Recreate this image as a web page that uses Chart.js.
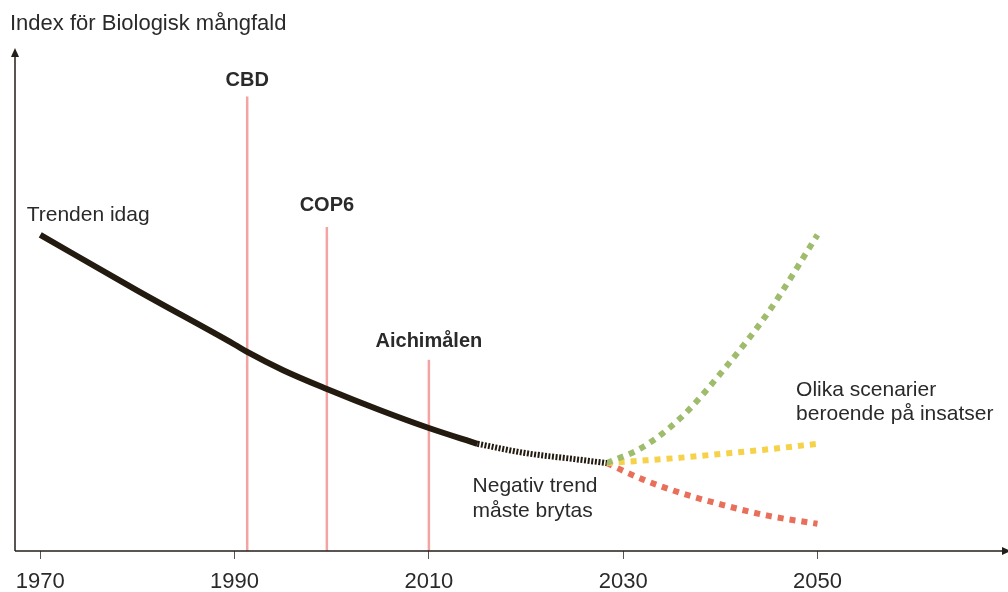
<!DOCTYPE html>
<html>
<head>
<meta charset="utf-8">
<script src="https://cdn.jsdelivr.net/npm/chart.js@4/dist/chart.umd.min.js"></script>
<style>
  html, body { margin: 0; padding: 0; background: #fff; }
  #wrap { width: 1008px; height: 592px; position: relative; }
</style>
</head>
<body>
<div id="wrap"><canvas id="chart"></canvas></div>
<script>
// årtal på x-axeln
const tickYears = [1970, 1990, 2010, 2030, 2050];

// dagens trend (heldragen) och fortsättningen (prickad)
const trendYears  = [1970, 1980, 1990, 1991.3, 1995, 1999.5, 2005, 2010, 2015];
const trendValues = [64, 52.7, 41.8, 40.3, 36.6, 32.8, 28.5, 24.9, 21.7];
const futureYears  = [2015, 2020, 2025, 2028.3];
const futureValues = [21.7, 19.8, 18.6, 17.8];

// scenarier fram till 2050
const scenarioYears = [2028.3, 2032, 2036, 2040.3, 2045, 2050];
const greenValues  = [17.8, 21, 27.1, 36.6, 48.5, 64];
const yellowValues = [17.8, 18.3, 18.9, 19.7, 20.6, 21.7];
const redValues    = [17.8, 14.5, 11.7, 9.3, 7.1, 5.5];

// milstolpar
const milestoneNames = ['CBD', 'COP6', 'Aichimålen'];
const milestoneYears = [1991.3, 1999.5, 2010];
const milestoneTops  = [92, 65.6, 38.7];

const pts = (xs, ys) => xs.map((x, i) => ({ x: x, y: ys[i] }));

const textColor = '#2a2a2a';
const font = "'Liberation Sans', Arial, sans-serif";

// var etiketterna sitter (i diagrammets koordinater)
const labelSpots = {
    trend:    [1968.6, 68],
    negativ:  [2014.5, 13.2, 8.1],
    scenario: [2047.8, 32.5, 27.6],
    milestone: [95.2, 69.9, 42.4]
};

const datasets = [
    {
        data: pts(trendYears, trendValues),
        borderColor: '#231a10', borderWidth: 6,
        tension: 0.4, cubicInterpolationMode: 'monotone', borderCapStyle: 'butt'
    },
    {
        data: pts(futureYears, futureValues),
        borderColor: '#231a10', borderWidth: 6, borderDash: [2, 1.6],
        tension: 0.4, cubicInterpolationMode: 'monotone'
    },
    {
        data: pts(scenarioYears, greenValues),
        borderColor: '#9ebc6b', borderWidth: 6, borderDash: [6, 6],
        tension: 0.4, cubicInterpolationMode: 'monotone'
    },
    {
        data: pts(scenarioYears, yellowValues),
        borderColor: '#f6d24a', borderWidth: 6, borderDash: [6, 6],
        tension: 0.4, cubicInterpolationMode: 'monotone'
    },
    {
        data: pts(scenarioYears, redValues),
        borderColor: '#e8705a', borderWidth: 6, borderDash: [6, 6],
        tension: 0.4, cubicInterpolationMode: 'monotone'
    }
];
milestoneYears.forEach((yr, i) => {
    datasets.push({
        data: [{ x: yr, y: 0 }, { x: yr, y: milestoneTops[i] }],
        borderColor: '#f4a3a3', borderWidth: 2.5
    });
});

// axlar med pilar + textetiketter
const decorPlugin = {
    id: 'decor',
    afterDatasetsDraw(chart) {
        const ctx = chart.ctx;
        const xs = chart.scales.x, ys = chart.scales.y;
        const a = chart.chartArea;
        const px = v => xs.getPixelForValue(v);
        const py = v => ys.getPixelForValue(v);
        ctx.save();
        ctx.strokeStyle = '#231f1a';
        ctx.fillStyle = '#231f1a';
        ctx.lineWidth = 1.5;
        ctx.beginPath();
        ctx.moveTo(a.left, a.bottom);
        ctx.lineTo(a.left, a.top - 2);
        ctx.moveTo(a.left, a.bottom);
        ctx.lineTo(a.right - 2, a.bottom);
        ctx.stroke();
        // pilspetsar
        ctx.beginPath();
        ctx.moveTo(a.left, a.top - 9);
        ctx.lineTo(a.left - 4, a.top);
        ctx.lineTo(a.left + 4, a.top);
        ctx.closePath();
        ctx.fill();
        ctx.beginPath();
        ctx.moveTo(a.right + 6, a.bottom);
        ctx.lineTo(a.right - 3, a.bottom - 4);
        ctx.lineTo(a.right - 3, a.bottom + 4);
        ctx.closePath();
        ctx.fill();

        ctx.fillStyle = textColor;
        ctx.textBaseline = 'middle';
        ctx.textAlign = 'left';
        ctx.font = '22px ' + font;
        ctx.fillText('Index för Biologisk mångfald', 10, 24);
        ctx.font = '21px ' + font;
        const t = labelSpots;
        ctx.fillText('Trenden idag', px(t.trend[0]), py(t.trend[1]));
        ctx.fillText('Negativ trend', px(t.negativ[0]), py(t.negativ[1]));
        ctx.fillText('måste brytas', px(t.negativ[0]), py(t.negativ[2]));
        ctx.fillText('Olika scenarier', px(t.scenario[0]), py(t.scenario[1]));
        ctx.fillText('beroende på insatser', px(t.scenario[0]), py(t.scenario[2]));

        ctx.font = 'bold 20px ' + font;
        ctx.textAlign = 'center';
        milestoneNames.forEach((name, i) => {
            ctx.fillText(name, px(milestoneYears[i]), py(t.milestone[i]));
        });
        ctx.restore();
    }
};

new Chart(document.getElementById('chart'), {
    type: 'line',
    data: { datasets: datasets },
    plugins: [decorPlugin],
    options: {
        responsive: true,
        maintainAspectRatio: false,
        animation: false,
        layout: { padding: { left: 15, right: 3, top: 57, bottom: 0 } },
        elements: { point: { radius: 0 } },
        plugins: { legend: { display: false }, tooltip: { enabled: false } },
        scales: {
            x: {
                type: 'linear',
                min: 1967.4,
                max: 2069.3,
                afterBuildTicks: s => { s.ticks = tickYears.map(v => ({ value: v })); },
                afterFit: s => { s.height = 41; },
                border: { display: false },
                grid: { drawOnChartArea: false, drawTicks: true, tickLength: 8, color: '#555', lineWidth: 1 },
                ticks: {
                    color: textColor,
                    padding: 10,
                    maxRotation: 0,
                    autoSkip: false,
                    font: { family: font, size: 22 },
                    callback: v => String(v)
                }
            },
            y: {
                display: false,
                min: 0,
                max: 100
            }
        }
    }
});
</script>
</body>
</html>
